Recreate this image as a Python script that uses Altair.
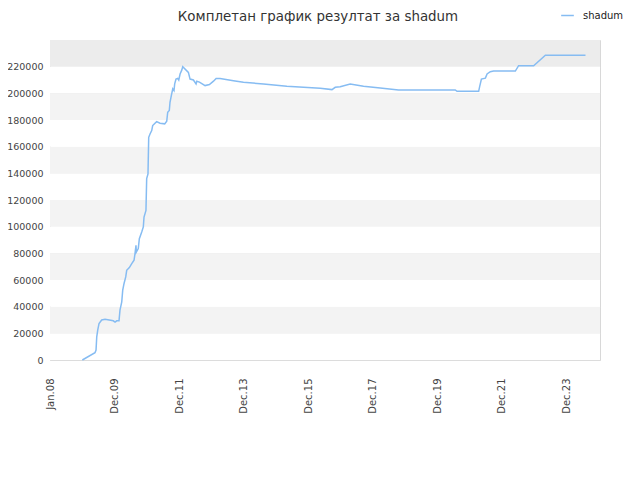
import altair as alt
import pandas as pd

# ---- data ----
dates = [
    "2009-01-01", "2009-05-24", "2009-06-05", "2009-06-13", "2009-06-24", "2009-07-09",
    "2009-08-08", "2009-09-15", "2009-12-17", "2010-01-06", "2010-01-25", "2010-02-20",
    "2010-03-03", "2010-03-23", "2010-04-03", "2010-04-18", "2010-05-07", "2010-05-18",
    "2010-06-17", "2010-07-14", "2010-08-09", "2010-08-20", "2010-08-31", "2010-09-04",
    "2010-09-26", "2010-10-08", "2010-11-04", "2010-11-22", "2010-11-30", "2010-12-22",
    "2010-12-30", "2011-01-14", "2011-01-22", "2011-02-06", "2011-02-25", "2011-03-08",
    "2011-04-03", "2011-04-22", "2011-05-30", "2011-07-22", "2011-08-14", "2011-08-25",
    "2011-09-12", "2011-09-20", "2011-10-05", "2011-10-21", "2011-11-04", "2011-11-12",
    "2011-11-27", "2011-12-16", "2011-12-28", "2012-01-12", "2012-01-31", "2012-02-11",
    "2012-04-15", "2012-05-04", "2012-06-11", "2012-07-11", "2012-07-19", "2012-08-18",
    "2012-10-21", "2012-12-09", "2013-01-24", "2013-02-23", "2013-04-09", "2013-09-07",
    "2013-12-29", "2014-08-13", "2015-05-04", "2016-05-16", "2016-09-26", "2016-11-02",
    "2016-12-28", "2017-04-20", "2017-09-18", "2018-03-26", "2018-10-19", "2019-06-22",
    "2020-07-22", "2020-08-11", "2021-04-13", "2021-04-24", "2021-05-14", "2021-06-28",
    "2021-07-17", "2021-08-23", "2021-09-29", "2022-06-02", "2022-07-09", "2022-12-26",
    "2023-05-08", "2024-08-04",
]
values = [
    0, 5500, 7500, 17400, 22400, 27400,
    30000, 30500, 29400, 28400, 29400, 29400,
    37400, 43600, 52400, 57400, 62300, 67300,
    69300, 72300, 74800, 79800, 86000, 81000,
    83600, 91000, 96000, 99800, 107200, 112200,
    136000, 139600, 167000, 169500, 172100, 175800,
    177600, 178800, 177600, 177100, 179100, 185800,
    187100, 193300, 198300, 203300, 202000, 207100,
    210700, 211200, 210000, 214500, 217400, 220000,
    215700, 210700, 210000, 207100, 209100, 208400,
    205800, 206600, 209100, 211200, 211200, 209500,
    208300, 207000, 205300, 203800, 202800, 204500,
    205000, 207000, 205300, 204000, 202500, 202500,
    202500, 201500, 201500, 205000, 210700, 211400,
    214500, 216200, 216700, 216700, 220700, 220700,
    228600, 228600,
]
series_name = "shadum"
title_text = "Комплетан график резултат за shadum"

y_ticks = [0, 20000, 40000, 60000, 80000, 100000, 120000, 140000,
           160000, 180000, 200000, 220000]
x_ticks = ["2008-01-01", "2009-12-31", "2011-12-31", "2013-12-31", "2015-12-31",
           "2017-12-31", "2019-12-31", "2021-12-31", "2023-12-31"]
band_lo = [0, 20000, 40000, 60000, 80000, 100000, 120000, 140000,
           160000, 180000, 200000, 220000]
band_hi = [20000, 40000, 60000, 80000, 100000, 120000, 140000, 160000,
           180000, 200000, 220000, 240000]
band_kind = ["w", "g", "w", "g", "w", "g", "w", "g", "w", "g", "w", "d"]

df = pd.DataFrame({"date": pd.to_datetime(dates), "value": values, "series": series_name})
bands = pd.DataFrame({"lo": band_lo, "hi": band_hi, "kind": band_kind})

W, H = 550, 320
FONT = "DejaVu Sans"
x_scale = alt.Scale(domain=["2008-01-01", "2025-01-15"])
y_scale = alt.Scale(domain=[0, 240000], nice=False)

y_axis = alt.Axis(values=y_ticks, format="d", grid=True, gridColor="#dcdcdc",
                  ticks=False, domain=False, title=None, labelPadding=7,
                  labelOverlap=False,
                  labelFont=FONT, labelFontSize=9.5, labelColor="#444")

bg = alt.Chart(bands).mark_rect().encode(
    x=alt.value(0), x2=alt.value(W),
    y=alt.Y("lo:Q", scale=y_scale, axis=y_axis),
    y2="hi:Q",
    fill=alt.Fill("kind:N", scale=alt.Scale(domain=["w", "g", "d"],
                                           range=["#ffffff", "#f3f3f3", "#ececec"]),
                  legend=None),
)

line = alt.Chart(df).mark_line(strokeWidth=1.5, interpolate="linear").encode(
    x=alt.X("date:T", scale=x_scale,
            axis=alt.Axis(values=[pd.Timestamp(t).isoformat() for t in x_ticks],
                          format="%b.%y", labelAngle=270, labelAlign="right",
                          labelBaseline="middle", grid=False, ticks=False,
                          domain=False, labelPadding=18, title=None, labelOverlap=False,
                          labelFont=FONT, labelFontSize=10, labelColor="#444")),
    y=alt.Y("value:Q", scale=y_scale, axis=y_axis),
    color=alt.Color("series:N", scale=alt.Scale(range=["#86bcf2"]),
                    legend=alt.Legend(title=None, orient="none", legendX=510, legendY=-32,
                                      padding=0, symbolType="stroke", symbolStrokeWidth=1.5,
                                      symbolSize=160, labelOffset=8, labelFont=FONT,
                                      labelFontSize=10, labelColor="#222")),
)

chart = alt.layer(bg, line).properties(
    width=W, height=H,
    title=alt.TitleParams(title_text, font=FONT, fontSize=13.4, fontWeight="normal",
                          color="#333", anchor="middle", offset=0, dy=15, dx=-7),
    autosize=alt.AutoSizeParams(type="none"),
    padding={"left": 42, "top": 32, "right": 30, "bottom": 100},
).configure_view(stroke="#d8d8d8", strokeWidth=1)

chart.save("out.html", embed_options={"renderer": "svg", "actions": False})
